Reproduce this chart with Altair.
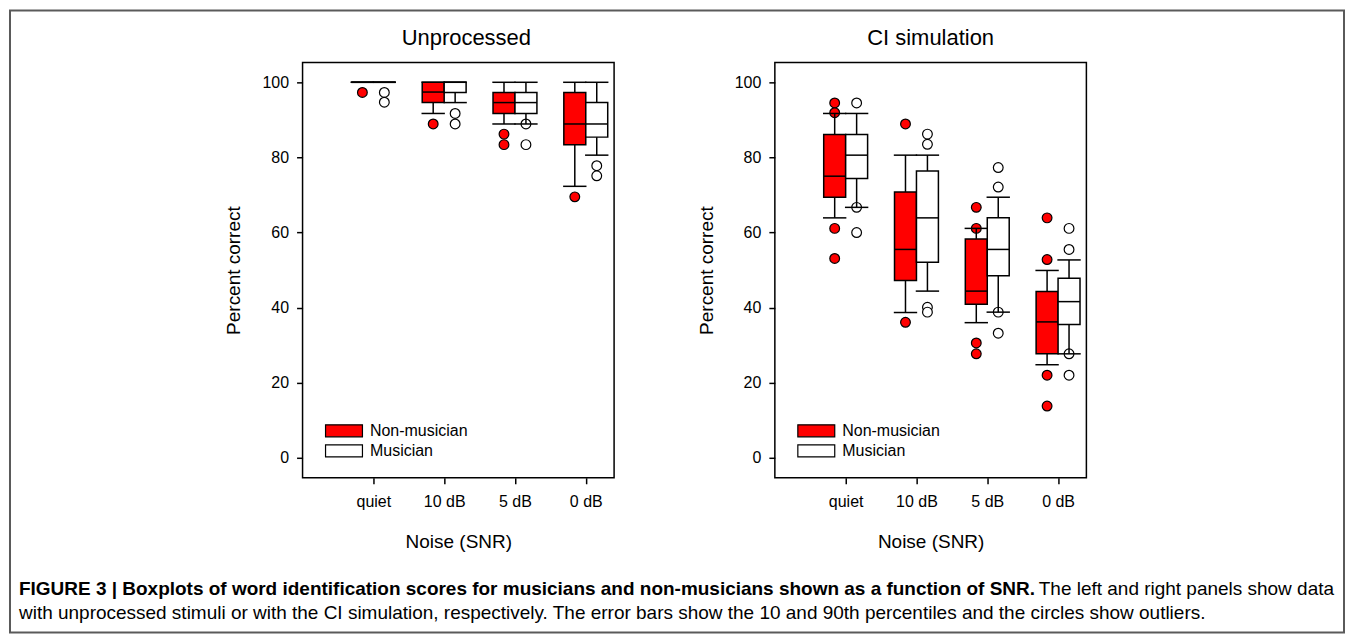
import altair as alt
import pandas as pd

FONT = "Liberation Sans"

categories = ["quiet", "10 dB", "5 dB", "0 dB"]
groups = ["Non-musician", "Musician"]
group_colors = ["#ff0000", "#ffffff"]

panel_titles = ["Unprocessed", "CI simulation"]
x_title = "Noise (SNR)"
y_title = "Percent correct"
y_ticks = [0, 20, 40, 60, 80, 100]

# ---- Unprocessed: Non-musician ----
unp_nm_p10 = [100, 91.7, 88.9, 72.3]
unp_nm_q1 = [100, 94.6, 91.7, 83.4]
unp_nm_med = [100, 97.4, 94.6, 88.9]
unp_nm_q3 = [100, 100, 97.3, 97.3]
unp_nm_p90 = [100, 100, 100, 100]
unp_nm_out = [[97.3], [88.9], [86.2, 83.4], [69.5]]
# ---- Unprocessed: Musician ----
unp_mu_p10 = [100, 94.6, 88.9, 80.6]
unp_mu_q1 = [100, 97.3, 91.7, 85.4]
unp_mu_med = [100, 100, 94.6, 88.9]
unp_mu_q3 = [100, 100, 97.3, 94.6]
unp_mu_p90 = [100, 100, 100, 100]
unp_mu_out = [[97.3, 94.7], [91.7, 88.9], [88.9, 83.4], [77.8, 75.1]]

# ---- CI simulation: Non-musician ----
ci_nm_p10 = [63.9, 38.7, 36.0, 24.8]
ci_nm_q1 = [69.4, 47.2, 40.9, 27.7]
ci_nm_med = [75.0, 55.5, 44.4, 36.2]
ci_nm_q3 = [86.1, 70.8, 58.3, 44.3]
ci_nm_p90 = [91.7, 80.6, 61.1, 49.9]
ci_nm_out = [[94.5, 91.9, 61.1, 53.1], [88.9, 36.1], [66.7, 61.1, 30.6, 27.7], [63.9, 52.8, 22.0, 13.8]]
# ---- CI simulation: Musician ----
ci_mu_p10 = [66.7, 44.4, 38.8, 27.7]
ci_mu_q1 = [74.4, 52.1, 48.5, 35.5]
ci_mu_med = [80.6, 63.9, 55.5, 41.6]
ci_mu_q3 = [86.1, 76.4, 63.9, 47.8]
ci_mu_p90 = [91.7, 80.6, 69.4, 52.7]
ci_mu_out = [[94.5, 66.7, 60.0], [86.2, 83.5, 40.1, 38.8], [77.3, 72.1, 38.8, 33.2], [61.1, 55.5, 27.7, 22.0]]

caption_bold = ("FIGURE 3 | Boxplots of word identification scores for musicians and "
                "non-musicians shown as a function of SNR.")
caption_rest1 = "The left and right panels show data"
caption_line2 = ("with unprocessed stimuli or with the CI simulation, respectively. The error bars "
                 "show the 10 and 90th percentiles and the circles show outliers.")

HALF = 0.155
CAP = 0.165


def build_frames(stats, outs):
    box_rows, out_rows = [], []
    for gi, g in enumerate(groups):
        p10, q1, med, q3, p90 = stats[gi]
        for ci, cat in enumerate(categories):
            xc = ci + 1 + (-HALF if gi == 0 else HALF)
            box_rows.append(dict(group=g, cat=cat, xc=xc, xl=xc - HALF, xr=xc + HALF,
                                 cl=xc - CAP, cr=xc + CAP, p10=p10[ci], q1=q1[ci],
                                 med=med[ci], q3=q3[ci], p90=p90[ci]))
            for v in outs[gi][ci]:
                out_rows.append(dict(group=g, xc=xc, value=v, color=group_colors[gi]))
    return pd.DataFrame(box_rows), pd.DataFrame(out_rows)


label_expr = "[" + ",".join(f"'{c}'" for c in categories) + "][datum.value - 1]"
xscale = alt.Scale(domain=[0, 4.4], nice=False, zero=False)
yscale = alt.Scale(domain=[-5.3, 105.3], nice=False, zero=False)
axis_common = dict(grid=False, domain=False, tickSize=6, tickColor="black", tickWidth=1.5,
                   labelFontSize=16, labelColor="black", labelFont=FONT,
                   titleFontSize=19, titleFontWeight="normal", titleColor="black", titleFont=FONT)
xaxis = alt.Axis(values=[1, 2, 3, 4], labelExpr=label_expr, title=x_title,
                 labelPadding=10, titlePadding=23, **axis_common)
yaxis = alt.Axis(values=y_ticks, title=y_title, labelPadding=8, titlePadding=18, **axis_common)


def X(field):
    return alt.X(f"{field}:Q", scale=xscale, axis=xaxis)


def Y(field):
    return alt.Y(f"{field}:Q", scale=yscale, axis=yaxis)


def panel(title, title_x, stats, outs, extra=None):
    box_df, out_df = build_frames(stats, outs)
    base = alt.Chart(box_df)
    points = alt.Chart(out_df).mark_point(
        filled=True, shape="circle", size=95, stroke="black", strokeWidth=1.2, opacity=1
    ).encode(x=X("xc"), y=Y("value"), fill=alt.Fill("color:N", scale=None))
    rule = dict(color="black", strokeWidth=1.5)
    wh_hi = base.mark_rule(**rule).encode(x=X("xc"), y=Y("q3"), y2="p90")
    wh_lo = base.mark_rule(**rule).encode(x=X("xc"), y=Y("p10"), y2="q1")
    cap_hi = base.mark_rule(**rule).encode(x=X("cl"), x2="cr", y=Y("p90"))
    cap_lo = base.mark_rule(**rule).encode(x=X("cl"), x2="cr", y=Y("p10"))
    boxes = base.mark_rect(stroke="black", strokeWidth=1.5).encode(
        x=X("xl"), x2="xr", y=Y("q1"), y2="q3",
        fill=alt.Fill("group:N", scale=alt.Scale(domain=groups, range=group_colors),
                      legend=alt.Legend(orient="none", legendX=33.5, legendY=361, title=None,
                                        symbolType="M-3.08,-1H3.08V1H-3.08Z", symbolSize=144,
                                        symbolStrokeColor="black", symbolStrokeWidth=1.2,
                                        symbolOpacity=1, labelFontSize=16, labelFont=FONT,
                                        labelColor="black", labelOffset=18, rowPadding=2,
                                        padding=0)))
    medians = base.mark_rule(**rule).encode(x=X("xl"), x2="xr", y=Y("med"))
    ttl = alt.Chart(pd.DataFrame({"t": [title]})).mark_text(
        align="center", baseline="alphabetic", font=FONT, fontSize=22, color="black"
    ).encode(x=alt.value(title_x), y=alt.value(-17), text="t:N")
    layers = [points, wh_hi, wh_lo, cap_hi, cap_lo, boxes, medians, ttl]
    if extra:
        layers += extra
    return alt.layer(*layers).properties(width=312, height=416)


one = pd.DataFrame({"t": [""]})
border = alt.Chart(one).mark_rect(fill="transparent", stroke="#5a5a5a", strokeWidth=2).encode(
    x=alt.value(-293), x2=alt.value(1043), y=alt.value(-52), y2=alt.value(571))
cap1 = alt.Chart(pd.DataFrame({"t": [caption_bold]})).mark_text(
    align="left", baseline="middle", font=FONT, fontSize=19, fontWeight="bold", color="black"
).encode(x=alt.value(-284), y=alt.value(527), text="t:N")
cap2 = alt.Chart(pd.DataFrame({"t": [caption_rest1]})).mark_text(
    align="right", baseline="middle", font=FONT, fontSize=19, color="black"
).encode(x=alt.value(1033), y=alt.value(527), text="t:N")
cap3 = alt.Chart(pd.DataFrame({"t": [caption_line2]})).mark_text(
    align="left", baseline="middle", font=FONT, fontSize=19, color="black"
).encode(x=alt.value(-284), y=alt.value(551), text="t:N")

left = panel(panel_titles[0], 164,
             [(unp_nm_p10, unp_nm_q1, unp_nm_med, unp_nm_q3, unp_nm_p90),
              (unp_mu_p10, unp_mu_q1, unp_mu_med, unp_mu_q3, unp_mu_p90)],
             [unp_nm_out, unp_mu_out], extra=[border, cap1, cap2, cap3])
right = panel(panel_titles[1], 156,
              [(ci_nm_p10, ci_nm_q1, ci_nm_med, ci_nm_q3, ci_nm_p90),
               (ci_mu_p10, ci_mu_q1, ci_mu_med, ci_mu_q3, ci_mu_p90)],
              [ci_nm_out, ci_mu_out])

chart = alt.hconcat(left, right, spacing=161, bounds="flush").resolve_scale(
    fill="independent").resolve_legend(fill="independent").properties(
    padding=0, background="white").configure_view(stroke="black", strokeWidth=1.5)

chart.save("out.html", embed_options={"renderer": "svg", "actions": False})
